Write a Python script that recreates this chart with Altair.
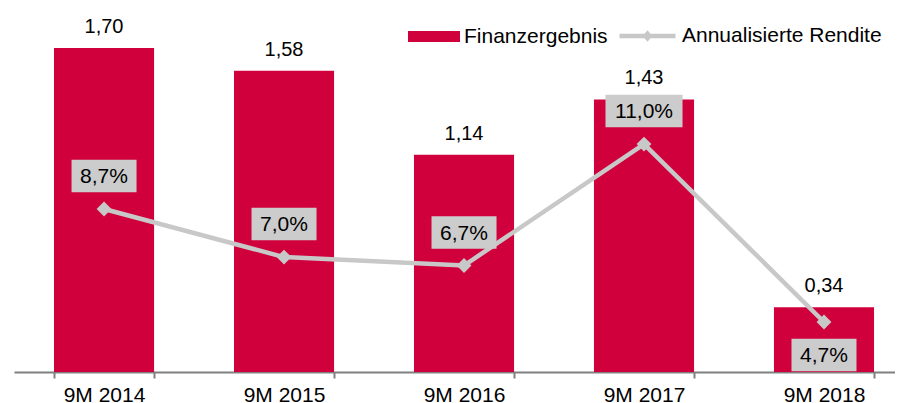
import altair as alt
import pandas as pd

periods = ["9M 2014", "9M 2015", "9M 2016", "9M 2017", "9M 2018"]
finanz = [1.70, 1.58, 1.14, 1.43, 0.34]
finanz_labels = ["1,70", "1,58", "1,14", "1,43", "0,34"]
rendite = [8.7, 7.0, 6.7, 11.0, 4.7]
rendite_labels = ["8,7%", "7,0%", "6,7%", "11,0%", "4,7%"]

df = pd.DataFrame({
    "period": periods,
    "finanz": finanz,
    "flabel": finanz_labels,
    "rendite": rendite,
    "rlabel": rendite_labels,
})

RED = "#D0003C"
GREY = "#C8C8C8"
BOX = "#CCCCCC"
FONT = "Liberation Sans"

NARROW = "M-1,-0.5H1V0.5H-1Z"
WIDE = "M-1.185,-0.5H1.185V0.5H-1.185Z"

x = alt.X("period:N", sort=periods,
          scale=alt.Scale(paddingInner=0.444, paddingOuter=0.1916, align=0.58),
          axis=alt.Axis(title=None, labelAngle=0, tickBand="extent", labelFont=FONT,
                        labelFontSize=21, labelColor="black", domainColor="#808080",
                        domainWidth=2, tickColor="#808080", tickWidth=2, tickSize=6,
                        labelPadding=6, grid=False))

y_bar = alt.Y("finanz:Q", scale=alt.Scale(domain=[0, 1.8993], nice=False, zero=True), axis=None)
y_line = alt.Y("rendite:Q", scale=alt.Scale(domain=[2.931, 15.745], nice=False, zero=False), axis=None)

bars = alt.Chart().transform_calculate(s1="'Finanzergebnis'").mark_bar().encode(
    x=x, y=y_bar,
    color=alt.Color("s1:N", scale=alt.Scale(domain=["Finanzergebnis"], range=[RED]),
                    legend=alt.Legend(title=None, orient="none", legendX=394, legendY=0.5,
                                      symbolType="M-1,-0.21H1V0.21H-1Z", symbolSize=2704,
                                      symbolStrokeWidth=0, labelFont=FONT, labelFontSize=21,
                                      labelColor="black", labelOffset=4, padding=0,
                                      labelLimit=400)),
)

bar_labels = alt.Chart().mark_text(dy=-15, baseline="alphabetic", fontSize=20, font=FONT,
                                   color="black").encode(x=x, y=y_bar, text="flabel:N")

line = alt.Chart().transform_calculate(s2="'Annualisierte Rendite'").mark_line(strokeWidth=4.5).encode(
    x=x, y=y_line,
    stroke=alt.Stroke("s2:N", scale=alt.Scale(domain=["Annualisierte Rendite"], range=[GREY]),
                      legend=alt.Legend(title=None, orient="none", legendX=603, legendY=-4.5,
                                        symbolType="M-1,0H1M-0.07,0L0,-0.08L0.07,0L0,0.08Z",
                                        symbolSize=3136, symbolStrokeWidth=4.5,
                                        symbolFillColor=GREY, labelFont=FONT, labelFontSize=21,
                                        labelColor="black", labelOffset=4, padding=0,
                                        labelLimit=400)),
)

diamonds = alt.Chart().mark_point(shape="diamond", filled=True, size=220, color=GREY,
                                  opacity=1).encode(x=x, y=y_line)

shape_enc = alt.condition("datum.rendite >= 10", alt.value(WIDE), alt.value(NARROW))

boxes_above = alt.Chart().transform_filter("datum.period != '9M 2018'").mark_point(
    filled=True, opacity=1, color=BOX, yOffset=-33, size=4225).encode(
    x=x, y=y_line, shape=shape_enc)
boxes_below = alt.Chart().transform_filter("datum.period == '9M 2018'").mark_point(
    filled=True, opacity=1, color=BOX, yOffset=33, size=4225).encode(
    x=x, y=y_line, shape=shape_enc)

text_above = alt.Chart().transform_filter("datum.period != '9M 2018'").mark_text(
    fontSize=21, font=FONT, color="black", baseline="middle", dy=-32).encode(
    x=x, y=y_line, text="rlabel:N")
text_below = alt.Chart().transform_filter("datum.period == '9M 2018'").mark_text(
    fontSize=21, font=FONT, color="black", baseline="middle", dy=34).encode(
    x=x, y=y_line, text="rlabel:N")

chart = alt.layer(bars, bar_labels, line, diamonds, boxes_above, boxes_below,
                  text_above, text_below, data=df).resolve_scale(y="independent").properties(
    width=889, height=362,
    padding={"left": 6, "top": 2, "right": -8, "bottom": 34},
    autosize=alt.AutoSizeParams(type="none"),
).configure_view(stroke=None)

chart.save("out.html", embed_options={"renderer": "svg", "actions": False})
